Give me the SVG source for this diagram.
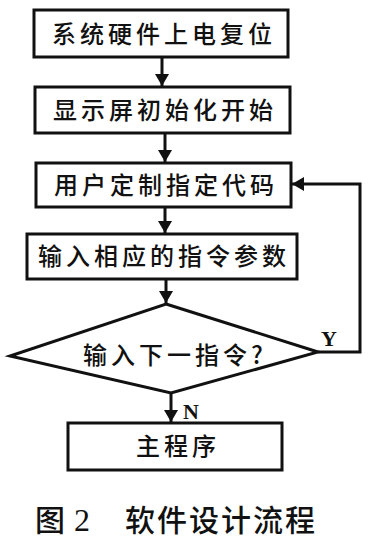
<svg xmlns="http://www.w3.org/2000/svg" width="374" height="546" viewBox="0 0 374 546">
<style>
.box{fill:#fff;stroke:#111;stroke-width:3}
.t{font-family:"Noto Sans CJK SC","Noto Sans CJK JP",sans-serif;font-size:24px;font-weight:500;fill:#111;text-anchor:middle;letter-spacing:4px}
.l{font-family:"Liberation Serif",serif;font-size:22px;font-weight:bold;fill:#111}
.c{stroke:#111;stroke-width:3;fill:none}
.cap{font-family:"Noto Sans CJK SC","Noto Sans CJK JP",sans-serif;font-size:30px;font-weight:500;fill:#111}
.num{font-family:"Liberation Serif",serif;font-size:32px;fill:#111}
</style>
<defs>
<marker id="ah" viewBox="0 0 12 14" refX="12" refY="7" markerWidth="12" markerHeight="14" markerUnits="userSpaceOnUse" orient="auto">
<path d="M0,0 L12,7 L0,14 Z" fill="#111"/>
</marker>
</defs>
<g id="connectors">
<line class="c" x1="162" y1="57" x2="162" y2="86" marker-end="url(#ah)"/>
<line class="c" x1="165" y1="133" x2="165" y2="162" marker-end="url(#ah)"/>
<line class="c" x1="165" y1="207" x2="165" y2="233" marker-end="url(#ah)"/>
<line class="c" x1="166" y1="279" x2="166" y2="303" marker-end="url(#ah)"/>
<polyline class="c" points="318,352 360,352 360,184 292,184" marker-end="url(#ah)"/>
<line class="c" x1="171" y1="393" x2="171" y2="422" marker-end="url(#ah)"/>
<text class="l" x="321" y="346">Y</text>
<text class="l" x="183" y="419">N</text>
</g>
<g id="n1"><rect class="box" x="34" y="10" width="254" height="47"/><text class="t" x="164" y="43">系统硬件上电复位</text></g>
<g id="n2"><rect class="box" x="35" y="87" width="255" height="46"/><text class="t" x="165" y="119">显示屏初始化开始</text></g>
<g id="n3"><rect class="box" x="36" y="163" width="255" height="44"/><text class="t" x="166" y="194">用户定制指定代码</text></g>
<g id="n4"><rect class="box" x="27" y="234" width="270" height="45"/><text class="t" x="164" y="265">输入相应的指令参数</text></g>
<g id="n5"><polygon class="box" points="166,304 318,352 171,393 10,356"/><text class="t" x="175" y="364">输入下一指令?</text></g>
<g id="n6"><rect class="box" x="68" y="423" width="214" height="47"/><text class="t" x="178" y="455">主程序</text></g>
<text class="cap" x="35" y="531">图</text>
<text class="num" x="74" y="531">2</text>
<text class="cap" x="125" y="531" letter-spacing="2">软件设计流程</text>
</svg>
